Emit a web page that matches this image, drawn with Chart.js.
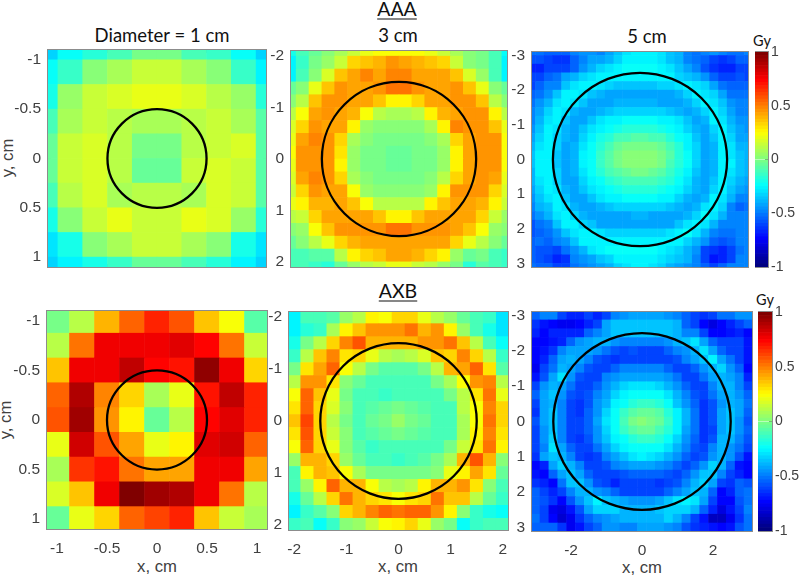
<!DOCTYPE html>
<html>
<head>
<meta charset="utf-8">
<script src="https://cdn.jsdelivr.net/npm/chart.js@4"></script>
<style>
body { margin: 0; background: #fff; width: 800px; height: 576px; overflow: hidden; position: relative; }
canvas { position: absolute; }
.txt { position: absolute; transform: translate(-50%, -50%); white-space: nowrap; color: #111; font-family: Lato, sans-serif; }
.head { font-size: 19.5px; text-decoration: underline; text-underline-offset: 3px; }
.sub { font-size: 18.5px; }
.unit { font-size: 14.5px; }
.axis { font-family: "Liberation Sans", sans-serif; font-size: 16.7px; color: #404040; }
</style>
</head>
<body>
<div class="txt head" style="left:397px;top:8px">AAA</div>
<div class="txt head" style="left:398px;top:290px">AXB</div>
<div class="txt sub" style="left:162px;top:35px">Diameter = 1 cm</div>
<div class="txt sub" style="left:398px;top:35px">3 cm</div>
<div class="txt sub" style="left:647px;top:36px">5 cm</div>
<div class="txt unit" style="left:762px;top:40px">Gy</div>
<div class="txt unit" style="left:765px;top:299px">Gy</div>
<div class="txt axis" style="left:8px;top:158px;transform:translate(-50%,-50%) rotate(-90deg)">y, cm</div>
<div class="txt axis" style="left:6px;top:420px;transform:translate(-50%,-50%) rotate(-90deg)">y, cm</div>
<div class="txt axis" style="left:157px;top:567px">x, cm</div>
<div class="txt axis" style="left:398px;top:567px">x, cm</div>
<div class="txt axis" style="left:642px;top:568px">x, cm</div>
<script>
// cell centres, cm
const aaa1Centers = [-1.125,-0.875,-0.625,-0.375,-0.125,0.125,0.375,0.625,0.875,1.125];
const aaa3Centers = [-2.125,-1.875,-1.625,-1.375,-1.125,-0.875,-0.625,-0.375,-0.125,0.125,0.375,0.625,0.875,1.125,1.375,1.625,1.875,2.125];
const aaa5Centers = [-3.125,-2.875,-2.625,-2.375,-2.125,-1.875,-1.625,-1.375,-1.125,-0.875,-0.625,-0.375,-0.125,0.125,0.375,0.625,0.875,1.125,1.375,1.625,1.875,2.125,2.375,2.625,2.875,3.125];
const axb1Centers = [-1,-0.75,-0.5,-0.25,0,0.25,0.5,0.75,1];
const axb3Centers = [-2,-1.75,-1.5,-1.25,-1,-0.75,-0.5,-0.25,0,0.25,0.5,0.75,1,1.25,1.5,1.75,2];
const axb5Centers = [-3,-2.75,-2.5,-2.25,-2,-1.75,-1.5,-1.25,-1,-0.75,-0.5,-0.25,0,0.25,0.5,0.75,1,1.25,1.5,1.75,2,2.25,2.5,2.75,3];

// dose difference, Gy
const aaa1Values = [
[-.32,-.25,-.18,-.1,-.03,-.03,-.1,-.15,-.25,-.33],
[-.25,-.14,.03,.08,.15,.15,.08,.03,-.14,-.27],
[-.2,.05,.13,.18,.19,.19,.18,.12,.05,-.18],
[-.1,.09,.15,.1,.09,.09,.1,.13,.09,-.08],
[-.05,.14,.16,.11,-.02,-.03,.1,.13,.16,-.07],
[-.05,.14,.17,.11,-.04,-.04,.13,.18,.13,-.07],
[-.1,.1,.16,.08,.1,.1,.07,.18,.13,-.08],
[-.2,.03,.14,.19,.15,.15,.19,.18,.04,-.17],
[-.3,-.19,.02,.08,.14,.14,.08,.02,-.2,-.3],
[-.33,-.27,-.2,-.13,-.06,-.06,-.12,-.18,-.27,-.33]];
const aaa3Values = [
[-.2,-.12,-.05,.02,.08,.15,.2,.22,.24,.24,.22,.2,.15,.08,.03,-.03,-.12,-.22],
[-.28,-.15,-.03,.05,.15,.33,.37,.4,.45,.42,.4,.36,.33,.15,.03,-.03,-.12,-.28],
[-.28,-.12,.03,.18,.36,.42,.47,.42,.49,.49,.43,.43,.42,.35,.18,.05,-.1,-.27],
[-.05,.03,.2,.37,.46,.43,.43,.44,.53,.53,.44,.43,.42,.46,.37,.2,.03,-.05],
[.02,.12,.36,.46,.44,.43,.42,.36,.28,.28,.34,.42,.42,.44,.46,.36,.12,.02],
[.1,.22,.43,.44,.43,.39,.22,.12,.07,.07,.1,.25,.39,.42,.44,.44,.25,.12],
[.17,.34,.44,.43,.42,.26,.06,.03,0,0,.03,.07,.26,.49,.44,.44,.36,.2],
[.2,.42,.49,.44,.34,.08,0,-.02,-.03,-.03,-.01,.02,.09,.33,.42,.44,.44,.22],
[.22,.44,.46,.44,.29,.04,-.02,-.03,-.04,-.04,-.03,-.01,.05,.27,.41,.44,.44,.22],
[.2,.44,.44,.44,.28,.04,-.03,-.03,-.05,-.05,-.03,-.02,.05,.27,.43,.44,.44,.22],
[.18,.43,.49,.44,.34,.08,0,-.01,-.03,-.03,-.02,0,.1,.34,.43,.44,.43,.2],
[.15,.34,.44,.42,.42,.24,.05,.03,0,0,.02,.06,.25,.44,.44,.44,.34,.16],
[.2,.25,.39,.39,.41,.37,.24,.12,.1,.1,.12,.25,.37,.41,.41,.39,.26,.15],
[.1,.15,.34,.41,.42,.43,.41,.35,.26,.26,.35,.41,.42,.43,.41,.34,.15,.05],
[.03,.06,.23,.36,.44,.44,.44,.44,.53,.53,.44,.44,.44,.42,.36,.23,.05,.03],
[-.05,.02,.1,.19,.32,.39,.42,.42,.43,.43,.42,.42,.41,.32,.2,.1,.02,-.05],
[-.1,-.1,-.08,-.07,.1,.25,.33,.37,.41,.42,.39,.33,.25,.05,-.05,-.02,-.1,-.13],
[-.1,-.1,-.13,-.17,-.05,.05,.12,.14,.2,.2,.15,.1,.05,-.03,-.17,-.08,-.1,-.15]];
const aaa5Values = [
[-.52,-.52,-.55,-.55,-.55,-.47,-.45,-.45,-.48,-.42,-.37,-.3,-.28,-.28,-.28,-.3,-.35,-.38,-.47,-.52,-.48,-.45,-.5,-.52,-.52,-.5],
[-.58,-.58,-.62,-.65,-.65,-.55,-.48,-.42,-.42,-.38,-.32,-.28,-.27,-.27,-.27,-.3,-.35,-.4,-.48,-.52,-.55,-.62,-.65,-.62,-.55,-.55],
[-.68,-.68,-.62,-.62,-.62,-.55,-.45,-.38,-.33,-.3,-.27,-.25,-.25,-.25,-.25,-.27,-.3,-.35,-.42,-.48,-.58,-.65,-.68,-.68,-.6,-.6],
[-.62,-.6,-.55,-.52,-.42,-.38,-.33,-.3,-.28,-.27,-.26,-.27,-.27,-.27,-.27,-.27,-.28,-.32,-.35,-.4,-.45,-.55,-.6,-.6,-.58,-.6],
[-.6,-.55,-.5,-.48,-.37,-.3,-.28,-.27,-.3,-.33,-.35,-.36,-.35,-.35,-.35,-.33,-.33,-.3,-.27,-.3,-.33,-.42,-.52,-.55,-.55,-.55],
[-.55,-.52,-.45,-.35,-.28,-.27,-.3,-.35,-.4,-.42,-.43,-.42,-.42,-.42,-.42,-.42,-.42,-.38,-.33,-.28,-.3,-.33,-.42,-.52,-.52,-.52],
[-.52,-.45,-.38,-.3,-.27,-.3,-.37,-.42,-.42,-.43,-.4,-.4,-.4,-.4,-.4,-.42,-.42,-.42,-.4,-.33,-.27,-.3,-.35,-.45,-.5,-.5],
[-.5,-.42,-.32,-.28,-.3,-.38,-.42,-.42,-.38,-.35,-.33,-.33,-.33,-.33,-.33,-.33,-.35,-.38,-.42,-.4,-.33,-.28,-.33,-.42,-.48,-.48],
[-.48,-.38,-.3,-.28,-.35,-.42,-.42,-.35,-.3,-.27,-.26,-.25,-.25,-.25,-.25,-.26,-.27,-.3,-.36,-.42,-.38,-.28,-.3,-.38,-.45,-.45],
[-.45,-.36,-.28,-.3,-.38,-.42,-.37,-.3,-.26,-.22,-.2,-.18,-.17,-.17,-.18,-.2,-.22,-.26,-.32,-.4,-.42,-.33,-.28,-.36,-.43,-.45],
[-.42,-.33,-.27,-.32,-.4,-.42,-.33,-.27,-.2,-.16,-.12,-.1,-.09,-.09,-.1,-.12,-.16,-.22,-.28,-.37,-.42,-.36,-.28,-.33,-.42,-.42],
[-.38,-.3,-.27,-.34,-.42,-.4,-.3,-.25,-.16,-.1,-.06,-.03,-.02,-.02,-.03,-.06,-.12,-.18,-.26,-.34,-.42,-.38,-.28,-.3,-.38,-.4],
[-.35,-.28,-.27,-.35,-.43,-.38,-.28,-.22,-.13,-.07,-.03,.01,.03,.03,.01,-.03,-.09,-.16,-.25,-.33,-.42,-.38,-.28,-.3,-.36,-.38],
[-.35,-.28,-.27,-.35,-.43,-.38,-.28,-.22,-.14,-.08,-.03,.01,.03,.03,.01,-.03,-.1,-.16,-.25,-.33,-.42,-.4,-.28,-.28,-.35,-.38],
[-.38,-.28,-.27,-.34,-.42,-.4,-.3,-.25,-.17,-.12,-.07,-.04,-.03,-.03,-.04,-.07,-.13,-.2,-.27,-.35,-.42,-.38,-.28,-.3,-.35,-.4],
[-.4,-.3,-.27,-.32,-.42,-.42,-.33,-.27,-.22,-.18,-.13,-.1,-.1,-.1,-.11,-.14,-.18,-.24,-.3,-.38,-.43,-.36,-.27,-.32,-.38,-.42],
[-.42,-.33,-.28,-.3,-.38,-.42,-.37,-.3,-.26,-.23,-.2,-.18,-.18,-.18,-.18,-.2,-.23,-.27,-.33,-.4,-.42,-.33,-.28,-.35,-.42,-.45],
[-.45,-.35,-.3,-.28,-.35,-.42,-.42,-.35,-.3,-.27,-.26,-.25,-.25,-.25,-.25,-.26,-.28,-.32,-.38,-.42,-.38,-.28,-.3,-.38,-.48,-.48],
[-.5,-.4,-.35,-.28,-.3,-.38,-.42,-.42,-.38,-.35,-.33,-.33,-.32,-.32,-.33,-.33,-.36,-.38,-.42,-.4,-.3,-.28,-.33,-.48,-.55,-.52],
[-.52,-.45,-.4,-.3,-.27,-.32,-.38,-.42,-.42,-.42,-.42,-.42,-.4,-.4,-.42,-.42,-.42,-.42,-.4,-.32,-.25,-.3,-.38,-.48,-.5,-.5],
[-.58,-.52,-.48,-.35,-.27,-.27,-.32,-.36,-.42,-.42,-.43,-.42,-.43,-.43,-.42,-.42,-.42,-.36,-.3,-.27,-.3,-.38,-.48,-.5,-.5,-.5],
[-.58,-.55,-.52,-.45,-.36,-.3,-.26,-.28,-.3,-.32,-.33,-.33,-.33,-.33,-.33,-.33,-.3,-.27,-.25,-.3,-.38,-.5,-.52,-.52,-.5,-.5],
[-.55,-.52,-.55,-.5,-.45,-.35,-.28,-.27,-.26,-.27,-.27,-.26,-.26,-.26,-.26,-.27,-.27,-.28,-.33,-.38,-.45,-.55,-.58,-.55,-.5,-.48],
[-.55,-.58,-.58,-.62,-.52,-.45,-.38,-.3,-.26,-.25,-.25,-.25,-.25,-.25,-.25,-.26,-.3,-.33,-.38,-.45,-.6,-.65,-.68,-.6,-.52,-.5],
[-.55,-.58,-.62,-.68,-.65,-.5,-.45,-.42,-.36,-.32,-.28,-.27,-.27,-.27,-.28,-.3,-.33,-.36,-.4,-.5,-.6,-.7,-.68,-.6,-.5,-.48],
[-.52,-.55,-.55,-.62,-.6,-.52,-.47,-.45,-.42,-.38,-.33,-.3,-.28,-.28,-.3,-.33,-.38,-.42,-.45,-.5,-.55,-.6,-.55,-.5,-.48,-.48]];
const axb1Values = [
[-.03,.12,.38,.55,.66,.58,.35,.22,-.07],
[.12,.5,.75,.75,.75,.8,.72,.53,.13],
[.35,.75,.75,.85,.73,.7,.95,.75,.33],
[.55,.88,.48,.33,.08,.2,.7,.85,.66],
[.57,.93,.45,.25,-.05,.1,.72,.8,.67],
[.2,.82,.57,.42,.21,.27,.8,.82,.56],
[.07,.65,.7,.5,.42,.42,.75,.75,.42],
[.17,.35,.75,.98,.93,.9,.75,.5,.12],
[-.05,.2,.33,.55,.62,.66,.36,.15,.08]];
const axb3Values = [
[-.27,-.12,-.1,-.08,.05,.12,.25,.22,.33,.33,.2,.1,.05,-.05,-.1,-.15,-.3],
[-.28,-.17,-.15,.08,.28,.36,.45,.45,.45,.5,.4,.45,.27,.05,-.1,-.2,-.3],
[-.2,-.03,.12,.33,.47,.58,.4,.38,.38,.4,.45,.45,.5,.36,.12,-.12,-.25],
[-.13,.1,.36,.47,.3,.33,.2,.1,.08,.1,.18,.35,.33,.47,.32,.12,-.15],
[-.03,.3,.41,.54,.22,.1,-.02,-.08,-.08,-.08,-.02,.1,.4,.41,.54,.3,-.08],
[.12,.44,.44,.3,.02,-.05,-.12,-.12,-.12,-.12,-.11,-.03,.08,.22,.45,.47,.1],
[.22,.56,.36,.2,-.03,-.11,-.12,-.13,-.12,-.12,-.12,-.1,-.02,.1,.3,.5,.2],
[.3,.56,.33,.18,0,-.1,-.09,-.05,-.02,-.05,-.08,-.12,-.1,.1,.22,.47,.32],
[.36,.6,.33,.12,-.02,-.1,-.05,-.01,.06,-.01,-.06,-.12,-.1,.08,.23,.5,.34],
[.3,.58,.33,.13,0,-.12,-.08,-.05,-.03,-.04,-.08,-.12,-.1,.07,.27,.47,.3],
[.24,.54,.32,.2,.03,-.08,-.13,-.12,-.1,-.1,-.12,-.1,-.02,.13,.3,.5,.25],
[.05,.4,.4,.33,.05,-.05,-.1,-.12,-.13,-.11,-.08,-.02,.07,.38,.58,.38,.02],
[-.1,.25,.4,.35,.23,.07,-.02,-.03,-.03,-.03,-.02,.03,.2,.28,.43,.3,-.05],
[-.1,.05,.27,.56,.38,.4,.22,.12,.08,.12,.25,.38,.4,.44,.3,.03,-.1],
[-.2,-.05,.1,.33,.5,.4,.33,.3,.22,.3,.33,.5,.36,.36,.12,-.05,-.15],
[-.27,-.15,-.08,0,.33,.38,.47,.56,.5,.54,.54,.44,.25,.03,-.15,-.2,-.25],
[-.15,-.1,-.25,-.13,0,.06,.15,.23,.28,.33,.2,.05,-.02,-.22,-.13,-.1,-.12]];
const axb5Values = [
[-.55,-.5,-.48,-.6,-.68,-.68,-.62,-.68,-.62,-.5,-.45,-.42,-.42,-.42,-.42,-.45,-.5,-.55,-.62,-.65,-.62,-.52,-.52,-.45,-.45],
[-.65,-.7,-.72,-.78,-.78,-.72,-.68,-.62,-.42,-.36,-.36,-.36,-.35,-.35,-.35,-.36,-.4,-.55,-.62,-.75,-.8,-.72,-.68,-.6,-.55],
[-.68,-.72,-.68,-.68,-.68,-.68,-.56,-.48,-.42,-.36,-.35,-.36,-.36,-.36,-.36,-.37,-.4,-.5,-.5,-.62,-.72,-.72,-.7,-.68,-.72],
[-.72,-.72,-.7,-.68,-.55,-.45,-.42,-.38,-.4,-.45,-.48,-.47,-.48,-.47,-.47,-.44,-.38,-.35,-.3,-.42,-.55,-.62,-.6,-.62,-.7],
[-.72,-.7,-.65,-.5,-.42,-.42,-.42,-.45,-.52,-.58,-.6,-.58,-.6,-.6,-.6,-.55,-.5,-.45,-.38,-.3,-.42,-.55,-.6,-.62,-.7],
[-.75,-.68,-.55,-.42,-.4,-.42,-.5,-.58,-.62,-.63,-.62,-.62,-.62,-.62,-.6,-.62,-.58,-.5,-.42,-.35,-.28,-.42,-.52,-.62,-.7],
[-.78,-.62,-.52,-.38,-.42,-.5,-.58,-.62,-.6,-.55,-.5,-.5,-.48,-.5,-.5,-.55,-.6,-.62,-.55,-.45,-.38,-.32,-.45,-.55,-.72],
[-.7,-.58,-.42,-.3,-.45,-.58,-.62,-.6,-.5,-.46,-.42,-.42,-.42,-.42,-.42,-.46,-.52,-.6,-.62,-.52,-.42,-.38,-.42,-.5,-.68],
[-.6,-.45,-.38,-.42,-.52,-.6,-.6,-.55,-.45,-.4,-.33,-.3,-.3,-.3,-.32,-.38,-.45,-.55,-.6,-.6,-.48,-.4,-.38,-.48,-.6],
[-.55,-.42,-.36,-.45,-.58,-.62,-.58,-.5,-.42,-.33,-.27,-.25,-.25,-.25,-.25,-.3,-.4,-.48,-.58,-.62,-.52,-.42,-.38,-.45,-.55],
[-.62,-.42,-.38,-.5,-.62,-.65,-.58,-.46,-.38,-.28,-.22,-.17,-.15,-.15,-.18,-.24,-.35,-.45,-.55,-.65,-.58,-.45,-.38,-.42,-.52],
[-.65,-.42,-.36,-.5,-.62,-.65,-.56,-.45,-.33,-.25,-.15,-.07,-.04,-.05,-.08,-.17,-.28,-.4,-.52,-.65,-.58,-.42,-.35,-.42,-.55],
[-.58,-.42,-.36,-.48,-.6,-.62,-.55,-.42,-.3,-.23,-.12,-.03,0,-.02,-.05,-.15,-.27,-.4,-.52,-.65,-.58,-.42,-.36,-.45,-.58],
[-.6,-.45,-.36,-.48,-.62,-.62,-.55,-.44,-.32,-.25,-.15,-.07,-.05,-.05,-.1,-.18,-.28,-.42,-.53,-.65,-.6,-.42,-.36,-.45,-.55],
[-.6,-.45,-.32,-.48,-.6,-.63,-.57,-.46,-.37,-.28,-.22,-.17,-.13,-.14,-.18,-.25,-.32,-.45,-.55,-.65,-.58,-.4,-.4,-.48,-.58],
[-.62,-.48,-.3,-.42,-.56,-.62,-.6,-.52,-.42,-.33,-.27,-.24,-.22,-.22,-.25,-.3,-.38,-.48,-.58,-.62,-.5,-.38,-.45,-.52,-.62],
[-.65,-.42,-.36,-.38,-.5,-.62,-.63,-.6,-.5,-.42,-.35,-.3,-.27,-.3,-.33,-.38,-.45,-.55,-.6,-.58,-.45,-.38,-.45,-.58,-.7],
[-.72,-.68,-.42,-.33,-.4,-.5,-.62,-.62,-.58,-.5,-.45,-.43,-.43,-.43,-.45,-.48,-.55,-.6,-.55,-.45,-.33,-.4,-.55,-.7,-.75],
[-.7,-.72,-.55,-.42,-.36,-.42,-.55,-.62,-.62,-.6,-.58,-.55,-.55,-.55,-.55,-.58,-.6,-.55,-.45,-.37,-.35,-.5,-.6,-.68,-.72],
[-.65,-.68,-.72,-.52,-.36,-.36,-.45,-.58,-.62,-.68,-.62,-.62,-.6,-.62,-.65,-.62,-.58,-.48,-.38,-.32,-.42,-.62,-.65,-.55,-.58],
[-.55,-.62,-.68,-.62,-.5,-.4,-.38,-.45,-.5,-.55,-.6,-.62,-.62,-.62,-.6,-.55,-.48,-.42,-.35,-.4,-.55,-.75,-.68,-.55,-.52],
[-.55,-.58,-.65,-.72,-.58,-.45,-.35,-.28,-.35,-.38,-.42,-.45,-.45,-.45,-.42,-.35,-.3,-.27,-.3,-.42,-.62,-.72,-.72,-.58,-.52],
[-.55,-.62,-.78,-.8,-.7,-.58,-.42,-.33,-.32,-.33,-.4,-.38,-.38,-.38,-.36,-.33,-.33,-.33,-.4,-.55,-.68,-.8,-.7,-.6,-.5],
[-.52,-.6,-.72,-.82,-.78,-.65,-.55,-.48,-.45,-.42,-.38,-.38,-.38,-.38,-.38,-.32,-.38,-.48,-.6,-.7,-.85,-.85,-.78,-.65,-.52],
[-.55,-.55,-.55,-.65,-.78,-.7,-.6,-.55,-.45,-.45,-.48,-.48,-.42,-.42,-.42,-.45,-.5,-.58,-.65,-.68,-.7,-.72,-.7,-.58,-.52]];

// tick labels
const ticks1 = [-1,-0.5,0,0.5,1];
const ticks3 = [-2,-1,0,1,2];
const ticks5y = [-3,-2,-1,0,1,2,3];
const ticks5x = [-2,0,2];
const colorbarTicks = [-1,-0.5,0,0.5,1];

const CELL = 0.25;
const LEFT = 50, RIGHT = 14, TOP = 14, BOTTOM = 40;
const TICK_COLOR = '#404040';
const TICK_FONT = { family: '"Liberation Sans", sans-serif', size: 15.5 };

function clamp01(v) { return Math.max(0, Math.min(1, v)); }

// matlab jet, 64 levels
function jet(v) {
    const level = Math.min(63, Math.floor((v + 1) / 2 * 64));
    const t = level / 63;
    const r = clamp01(Math.min(4 * t - 1.5, -4 * t + 4.5));
    const g = clamp01(Math.min(4 * t - 0.5, -4 * t + 3.5));
    const b = clamp01(Math.min(4 * t + 0.5, -4 * t + 2.5));
    return `rgb(${Math.round(r * 255)},${Math.round(g * 255)},${Math.round(b * 255)})`;
}

const framePlugin = {
    id: 'frame',
    afterDraw(chart) {
        const a = chart.chartArea;
        const ctx = chart.ctx;
        ctx.save();
        ctx.strokeStyle = '#8c8c8c';
        ctx.lineWidth = 1;
        ctx.strokeRect(a.left - 0.5, a.top - 0.5, a.width + 1, a.height + 1);
        ctx.restore();
    }
};

const circlePlugin = {
    id: 'circle',
    afterDatasetsDraw(chart, args, opts) {
        const x = chart.scales.x, y = chart.scales.y;
        const ctx = chart.ctx;
        ctx.save();
        ctx.beginPath();
        ctx.ellipse(x.getPixelForValue(0), y.getPixelForValue(0),
            Math.abs(x.getPixelForValue(opts.r) - x.getPixelForValue(0)),
            Math.abs(y.getPixelForValue(opts.r) - y.getPixelForValue(0)), 0, 0, 2 * Math.PI);
        ctx.strokeStyle = '#000';
        ctx.lineWidth = 2.3;
        ctx.stroke();
        ctx.restore();
    }
};

function fixedSize(scale, size) {
    if (scale.isHorizontal()) scale.height = size; else scale.width = size;
    scale.paddingLeft = scale.paddingRight = scale.paddingTop = scale.paddingBottom = 0;
}

function axis(position, range, tickValues, reverse, showLabels, size) {
    const isX = position === 'bottom' || position === 'top';
    return {
        type: 'linear',
        position: position,
        min: -range,
        max: range,
        reverse: reverse,
        afterBuildTicks(scale) { scale.ticks = tickValues.map(v => ({ value: v })); },
        afterFit(scale) { fixedSize(scale, size); },
        border: { display: false },
        grid: { drawOnChartArea: false, drawTicks: true, tickLength: -3, color: '#666', lineWidth: 1 },
        ticks: {
            display: showLabels,
            autoSkip: false,
            maxRotation: 0,
            padding: isX ? 13 : 10,
            color: TICK_COLOR,
            font: TICK_FONT,
            callback: v => String(v)
        }
    };
}

function drawPanel(p) {
    const canvas = document.createElement('canvas');
    canvas.width = p.right - p.left + LEFT + RIGHT;
    canvas.height = p.bottom - p.top + TOP + BOTTOM;
    canvas.style.left = (p.left - LEFT) + 'px';
    canvas.style.top = (p.top - TOP) + 'px';
    document.body.appendChild(canvas);

    const points = [];
    p.values.forEach((row, i) => {
        row.forEach((v, j) => points.push({ x: p.centers[j], y: p.centers[i], v: v }));
    });

    new Chart(canvas, {
        type: 'scatter',
        data: {
            datasets: [{
                data: points,
                showLine: false,
                clip: 0,
                pointStyle: 'rect',
                pointBorderWidth: 0,
                pointBackgroundColor: c => jet(c.raw.v),
                pointRadius: c => {
                    const sx = c.chart.scales.x;
                    const w = Math.abs(sx.getPixelForValue(CELL) - sx.getPixelForValue(0));
                    return (w + 0.6) / Math.SQRT2;
                }
            }]
        },
        options: {
            responsive: false,
            animation: false,
            events: [],
            layout: { padding: { top: TOP, right: RIGHT, left: 0, bottom: 0 } },
            plugins: { legend: { display: false }, tooltip: { enabled: false }, circle: { r: p.radius } },
            scales: {
                x: axis('bottom', p.range, p.xTicks, false, p.xLabels, BOTTOM),
                y: axis('left', p.range, p.yTicks, true, true, LEFT),
                x2: axis('top', p.range, p.xTicks, false, false, 0),
                y2: axis('right', p.range, p.yTicks, true, false, 0)
            }
        },
        plugins: [framePlugin, circlePlugin]
    });
}

function drawColorbar(b) {
    const canvas = document.createElement('canvas');
    canvas.width = b.right - b.left + 45;
    canvas.height = b.bottom - b.top + TOP * 2;
    canvas.style.left = b.left + 'px';
    canvas.style.top = (b.top - TOP) + 'px';
    document.body.appendChild(canvas);

    const datasets = [];
    for (let i = 0; i < 64; i++) {
        const lo = -1 + i / 32, hi = lo + 1 / 32;
        datasets.push({ data: [[lo, hi]], backgroundColor: jet((lo + hi) / 2), borderWidth: 0 });
    }

    const yAxis = axis('right', 1, colorbarTicks, false, true, 45);
    yAxis.ticks.padding = 6;
    yAxis.ticks.font = { family: TICK_FONT.family, size: 14 };

    new Chart(canvas, {
        type: 'bar',
        data: { labels: ['Gy'], datasets: datasets },
        options: {
            responsive: false,
            animation: false,
            events: [],
            grouped: false,
            categoryPercentage: 1,
            barPercentage: 1,
            layout: { padding: { top: TOP, bottom: TOP } },
            plugins: { legend: { display: false }, tooltip: { enabled: false } },
            scales: {
                x: { display: false },
                y: yAxis
            }
        },
        plugins: [framePlugin]
    });
}

[
    { left: 48, right: 266, top: 50, bottom: 267, range: 1.1, radius: 0.5, centers: aaa1Centers, values: aaa1Values, xTicks: ticks1, yTicks: ticks1, xLabels: false },
    { left: 291, right: 507, top: 51, bottom: 267, range: 2.1, radius: 1.5, centers: aaa3Centers, values: aaa3Values, xTicks: ticks3, yTicks: ticks3, xLabels: false },
    { left: 532, right: 748, top: 52, bottom: 267, range: 3.1, radius: 2.5, centers: aaa5Centers, values: aaa5Values, xTicks: ticks5x, yTicks: ticks5y, xLabels: false },
    { left: 47, right: 267, top: 311, bottom: 529, range: 1.1, radius: 0.5, centers: axb1Centers, values: axb1Values, xTicks: ticks1, yTicks: ticks1, xLabels: true },
    { left: 289, right: 508, top: 312, bottom: 530, range: 2.1, radius: 1.5, centers: axb3Centers, values: axb3Values, xTicks: ticks3, yTicks: ticks3, xLabels: true },
    { left: 532, right: 752, top: 312, bottom: 531, range: 3.1, radius: 2.5, centers: axb5Centers, values: axb5Values, xTicks: ticks5x, yTicks: ticks5y, xLabels: true }
].forEach(drawPanel);

[
    { left: 755, right: 768, top: 52, bottom: 267 },
    { left: 758, right: 772, top: 312, bottom: 531 }
].forEach(drawColorbar);
</script>
</body>
</html>
